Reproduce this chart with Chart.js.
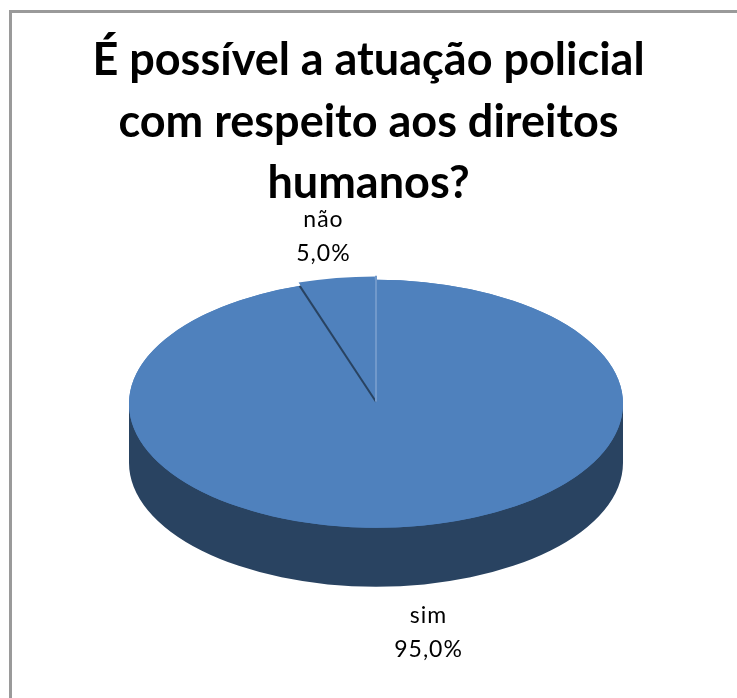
<!DOCTYPE html>
<html>
<head>
<meta charset="utf-8">
<title>Pizza</title>
<script src="https://cdn.jsdelivr.net/npm/chart.js@4"></script>
<style>
  html, body { margin: 0; padding: 0; background: #fff; overflow: hidden; }
  #wrap { position: absolute; left: 0; top: 0; width: 737px; height: 698px; }
  #frame { position: absolute; left: 9px; top: 10px; width: 800px; height: 800px; border: 3px solid #9a9a9a; box-sizing: border-box; }
</style>
</head>
<body>
<div id="frame"></div>
<div id="wrap"><canvas id="pie" width="737" height="698" role="img" aria-label="Gráfico de pizza: sim 95,0%, não 5,0%"></canvas></div>
<script>
const categories = ['sim', 'não'];
const percentages = [95, 5];
const titleLines = ['É possível a atuação policial', 'com respeito aos direitos', 'humanos?'];

const FLAT = 124 / 247;   // vertical squash of the tilted pie
const DEPTH = 59;         // height of the side wall
const SHIFT_X = 7.5;      // pie sits right of the title centre
const TOP = '#4f81bd';
const SIDE = '#294361';

// squashes the arcs into an ellipse and draws the side wall under them
const tilt = {
  id: 'tilt',
  beforeDatasetsDraw(chart) {
    const { ctx } = chart;
    const arc = chart.getDatasetMeta(0).data[0];
    const cx = arc.x + SHIFT_X, cy = arc.y, r = arc.outerRadius;
    ctx.save();
    ctx.fillStyle = SIDE;
    ctx.beginPath();
    ctx.ellipse(cx, cy + DEPTH, r, r * FLAT, 0, 0, Math.PI * 2);
    ctx.rect(cx - r, cy, r * 2, DEPTH);
    ctx.fill('nonzero');
    // base under the arcs so the wall does not show through the raised slice
    ctx.fillStyle = TOP;
    ctx.beginPath();
    ctx.ellipse(cx, cy, r, r * FLAT, 0, 0, Math.PI * 2);
    ctx.fill();
    ctx.restore();
    ctx.save();
    ctx.translate(SHIFT_X, cy);
    ctx.scale(1, FLAT);
    ctx.translate(0, -cy);
  },
  afterDatasetsDraw(chart) {
    const { ctx } = chart;
    ctx.restore();
    const arcs = chart.getDatasetMeta(0).data;
    const cx = arcs[0].x + SHIFT_X, cy = arcs[0].y, r = arcs[0].outerRadius;
    const a = arcs[1].startAngle;
    ctx.save();
    // dark seam on the left edge of the small slice
    ctx.strokeStyle = SIDE;
    ctx.lineWidth = 2;
    ctx.beginPath();
    ctx.moveTo(cx, cy - 2);
    ctx.lineTo(cx + Math.cos(a) * r, cy + Math.sin(a) * r * FLAT);
    ctx.stroke();
    // faint seam on its right edge
    ctx.strokeStyle = '#7199cb';
    ctx.lineWidth = 2;
    ctx.beginPath();
    ctx.moveTo(cx, cy - 2);
    ctx.lineTo(cx, cy - r * FLAT - 4);
    ctx.stroke();
    // data labels
    ctx.fillStyle = '#000';
    ctx.font = '23px Lato, "Open Sans", sans-serif';
    ctx.letterSpacing = '1px';
    ctx.textAlign = 'center';
    ctx.textBaseline = 'middle';
    arcs.forEach((arc, i) => {
      const mid = (arc.startAngle + arc.endAngle) / 2;
      const x = cx + Math.cos(mid) * r * 1.36;
      const y = cy + Math.sin(mid) * r * FLAT * 1.36 + (Math.sin(mid) > 0 ? DEPTH + 3 : -1);
      ctx.fillText(categories[i], x, y - 17);
      ctx.fillText(percentages[i].toFixed(1).replace('.', ',') + '%', x, y + 17);
    });
    ctx.restore();
  }
};

new Chart(document.getElementById('pie'), {
  type: 'pie',
  data: {
    labels: categories,
    datasets: [{ data: percentages, backgroundColor: TOP, borderWidth: 0, offset: [0, 16] }]
  },
  options: {
    responsive: false,
    animation: false,
    radius: 247,
    layout: { padding: { left: 0, right: 0, top: 0, bottom: 44 } },
    plugins: {
      legend: { display: false },
      tooltip: { enabled: false },
      title: {
        display: true,
        text: titleLines,
        color: '#000',
        font: { family: 'Lato, "Open Sans", sans-serif', size: 45, weight: 'bold', lineHeight: 1.367 },
        padding: { top: 30, bottom: -61 }
      }
    }
  },
  plugins: [tilt]
});
</script>
</body>
</html>
